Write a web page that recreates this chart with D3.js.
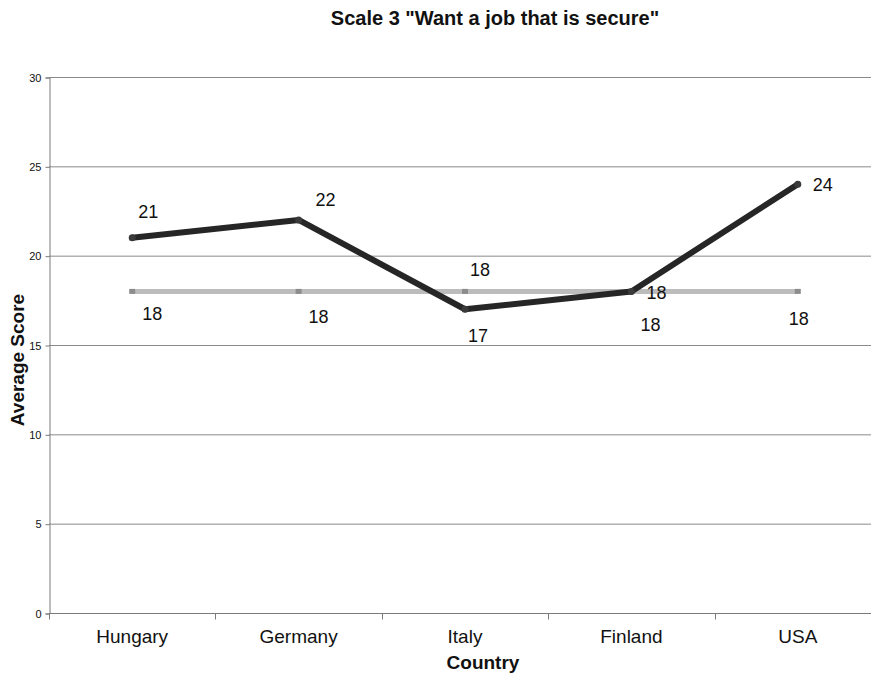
<!DOCTYPE html>
<html>
<head>
<meta charset="utf-8">
<script src="https://cdnjs.cloudflare.com/ajax/libs/d3/7.8.5/d3.min.js"></script>
<style>
  html, body { margin: 0; padding: 0; background: #fff; }
  svg { display: block; font-family: "Liberation Sans", Arial, sans-serif; }
</style>
</head>
<body>
<svg id="chart" width="871" height="674"></svg>
<script>
// Scale 3 scores by country
const countries = ["Hungary", "Germany", "Italy", "Finland", "USA"];
const scores = [21, 22, 17, 18, 24];
const averages = [18, 18, 18, 18, 18];
const yTicks = [0, 5, 10, 15, 20, 25, 30];

// Where each value label sits relative to its point (dx, dy of text centre)
const scoreLabelOffsets = [[16, -26], [27, -20], [13, 26], [19, 33], [25, 0]];
const averageLabelOffsets = [[20, 22], [20, 25], [15, -22], [25, 1], [1, 27]];

const svg = d3.select("#chart");
const margin = { left: 49, top: 77, right: 881, bottom: 613 };

const x = d3.scaleBand().domain(countries).range([margin.left, margin.right]);
const y = d3.scaleLinear().domain([0, 30]).range([margin.bottom, margin.top]);
const cx = d => x(d) + x.bandwidth() / 2;

// Horizontal gridlines
svg.append("g")
  .selectAll("line")
  .data(yTicks.filter(t => t > 0))
  .join("line")
  .attr("x1", margin.left).attr("x2", margin.right)
  .attr("y1", d => y(d) + 0.5).attr("y2", d => y(d) + 0.5)
  .attr("stroke", "#8a8a8a").attr("stroke-width", 1);

// Y axis
const yAxis = svg.append("g")
  .attr("transform", `translate(${margin.left + 0.5},0.5)`)
  .call(d3.axisLeft(y).tickValues(yTicks).tickSize(4).tickPadding(4));
yAxis.select(".domain").attr("stroke", "#7a7a7a");
yAxis.selectAll(".tick line").attr("stroke", "#7a7a7a");
yAxis.selectAll(".tick text")
  .attr("font-size", 11).attr("fill", "#111")
  .attr("font-family", "Liberation Sans, Arial, sans-serif");

// X axis with ticks at band boundaries
const xAxis = svg.append("g")
  .attr("transform", `translate(0,${margin.bottom + 0.5})`);
xAxis.append("line")
  .attr("x1", margin.left).attr("x2", margin.right)
  .attr("stroke", "#7a7a7a");
xAxis.selectAll("line.tk")
  .data(countries.concat(["end"]))
  .join("line").attr("class", "tk")
  .attr("x1", (d, i) => Math.round(margin.left + i * x.step()) + 0.5)
  .attr("x2", (d, i) => Math.round(margin.left + i * x.step()) + 0.5)
  .attr("y1", 0).attr("y2", 6)
  .attr("stroke", "#7a7a7a");
xAxis.selectAll("text")
  .data(countries)
  .join("text")
  .attr("x", d => cx(d))
  .attr("y", 29)
  .attr("text-anchor", "middle")
  .attr("font-size", 19)
  .attr("fill", "#111")
  .text(d => d);

// Average line
const line = d3.line().x((d, i) => cx(countries[i])).y(d => y(d));
svg.append("path")
  .datum(averages)
  .attr("d", line)
  .attr("fill", "none")
  .attr("stroke", "#bcbcbc")
  .attr("stroke-width", 5);
svg.append("g")
  .selectAll("rect")
  .data(averages)
  .join("rect")
  .attr("x", (d, i) => cx(countries[i]) - 3)
  .attr("y", d => y(d) - 2.5)
  .attr("width", 6).attr("height", 5)
  .attr("fill", "#8c8c8c");

// Score line
svg.append("path")
  .datum(scores)
  .attr("d", line)
  .attr("fill", "none")
  .attr("stroke", "#262626")
  .attr("stroke-width", 6)
  .attr("stroke-linejoin", "round")
  .attr("stroke-linecap", "round");
svg.append("g")
  .selectAll("circle")
  .data(scores)
  .join("circle")
  .attr("cx", (d, i) => cx(countries[i]))
  .attr("cy", d => y(d))
  .attr("r", 3.5)
  .attr("fill", "#3a3a3a");

// Value labels
function addLabels(values, offsets) {
  svg.append("g")
    .selectAll("text")
    .data(values)
    .join("text")
    .attr("x", (d, i) => cx(countries[i]) + offsets[i][0])
    .attr("y", (d, i) => y(d) + offsets[i][1])
    .attr("dy", "0.35em")
    .attr("text-anchor", "middle")
    .attr("font-size", 18)
    .attr("fill", "#111")
    .text(d => d);
}
addLabels(averages, averageLabelOffsets);
addLabels(scores, scoreLabelOffsets);

// Titles
svg.append("text")
  .attr("x", 495).attr("y", 25)
  .attr("text-anchor", "middle")
  .attr("font-size", 20).attr("font-weight", "bold")
  .attr("fill", "#111")
  .text('Scale 3 "Want a job that is secure"');

svg.append("text")
  .attr("x", 483).attr("y", 669)
  .attr("text-anchor", "middle")
  .attr("font-size", 19).attr("font-weight", "bold")
  .attr("fill", "#111")
  .text("Country");

svg.append("text")
  .attr("transform", "translate(24,360) rotate(-90)")
  .attr("text-anchor", "middle")
  .attr("font-size", 19).attr("font-weight", "bold")
  .attr("fill", "#111")
  .text("Average Score");
</script>
</body>
</html>
